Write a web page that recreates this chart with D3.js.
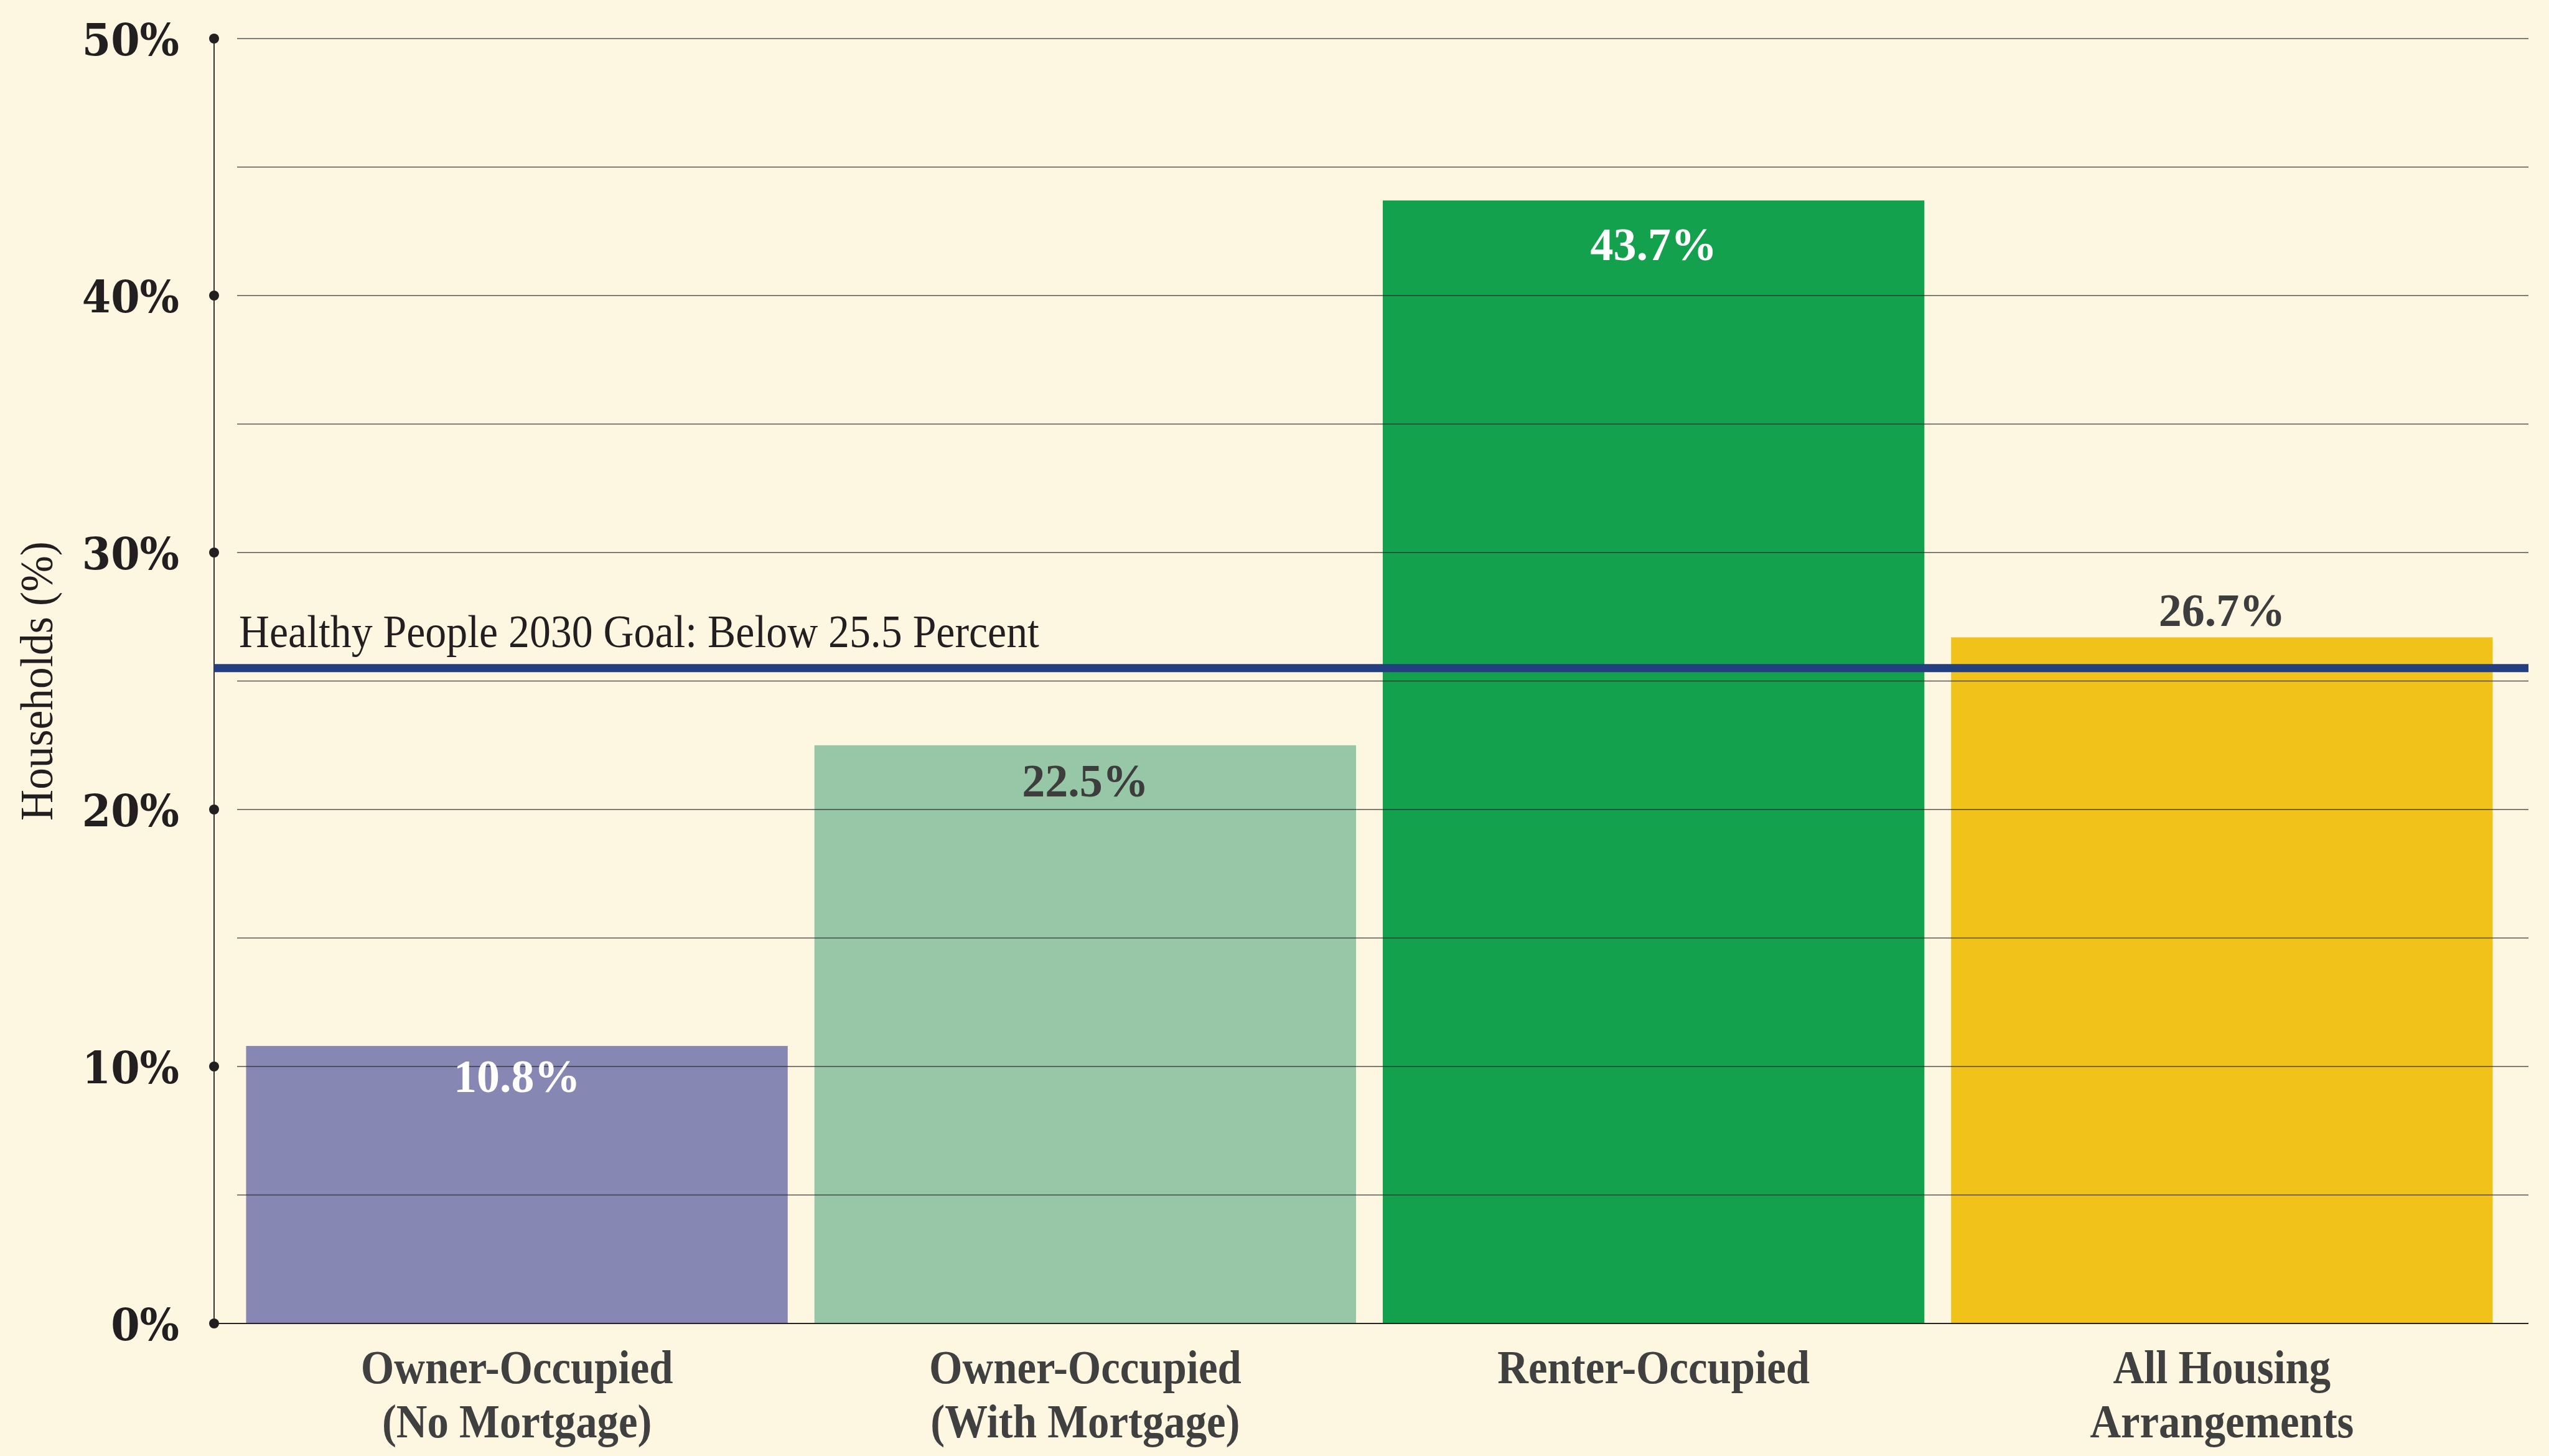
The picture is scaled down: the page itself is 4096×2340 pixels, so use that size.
<!DOCTYPE html>
<html><head><meta charset="utf-8">
<script src="https://cdn.jsdelivr.net/npm/d3@7"></script>
<style>html,body{margin:0;padding:0;background:#FDF7E2;} svg{display:block}</style>
</head><body>
<svg id="c" width="4096" height="2340"></svg>
<script>
// ---- data ----
const categories = [
  ["Owner-Occupied", "(No Mortgage)"],
  ["Owner-Occupied", "(With Mortgage)"],
  ["Renter-Occupied"],
  ["All Housing", "Arrangements"]
];
const values = [10.8, 22.5, 43.7, 26.7];
const valueLabels = ["10.8%", "22.5%", "43.7%", "26.7%"];
const labelInside = [true, true, true, false];
const yTicks = [0, 10, 20, 30, 40, 50];
const yTickLabels = ["0%", "10%", "20%", "30%", "40%", "50%"];
const gridValues = [5, 10, 15, 20, 25, 30, 35, 40, 45, 50];
const goalValue = 25.5;
const goalLabel = "Healthy People 2030 Goal: Below 25.5 Percent";
const yTitle = "Households (%)";

// ---- styles ----
const barColors = ["#8688B3", "#97C7A7", "#13A14D", "#F0C21A"];
const labelColors = ["#ffffff", "#3d3d3d", "#ffffff", "#3d3d3d"];
const W = 4096, H = 2340;
const svg = d3.select("#c");
svg.append("rect").attr("width", W).attr("height", H).attr("fill", "#FDF7E2");

const y = d3.scaleLinear().domain([0, 50]).range([2127, 62]);
const x = d3.scaleBand().domain(d3.range(categories.length))
  .range([374, 4027]).paddingInner(0.047).paddingOuter(0.0235);
const axisX = 344, gridX0 = 381, gridX1 = 4063;

// bars
svg.append("g").selectAll("rect").data(values).join("rect")
  .attr("x", (d, i) => x(i)).attr("width", x.bandwidth())
  .attr("y", d => y(d)).attr("height", d => y(0) - y(d))
  .attr("fill", (d, i) => barColors[i]);

// gridlines (drawn over bars)
svg.append("g").selectAll("line").data(gridValues).join("line")
  .attr("x1", gridX0).attr("x2", gridX1)
  .attr("y1", d => y(d)).attr("y2", d => y(d))
  .attr("stroke", "#2a2a2a").attr("stroke-width", 1.3).attr("stroke-opacity", 0.8);

// baseline
svg.append("line").attr("x1", axisX).attr("x2", gridX1)
  .attr("y1", y(0)).attr("y2", y(0))
  .attr("stroke", "#262626").attr("stroke-width", 2.2);

// y axis line
svg.append("line").attr("x1", axisX).attr("x2", axisX)
  .attr("y1", y(50)).attr("y2", y(0))
  .attr("stroke", "#333").attr("stroke-width", 2);

// tick dots
svg.append("g").selectAll("circle").data(yTicks).join("circle")
  .attr("cx", axisX).attr("cy", d => y(d)).attr("r", 8).attr("fill", "#231f20");

// tick labels via axis generator
const axisG = svg.append("g").attr("transform", "translate(288,0)")
  .call(d3.axisLeft(y).tickValues(yTicks).tickFormat((d, i) => yTickLabels[i]).tickSize(0).tickPadding(0));
axisG.select(".domain").remove();
axisG.selectAll("text")
  .attr("x", 0).attr("dy", null)
  .attr("transform", "translate(0,26) scale(0.94,1)")
  .attr("text-anchor", "end")
  .attr("fill", "#231f20")
  .style("font-family", "'DejaVu Serif', serif")
  .style("font-weight", "bold")
  .style("font-size", "71px");

// goal line
svg.append("line").attr("x1", axisX).attr("x2", gridX1)
  .attr("y1", y(goalValue)).attr("y2", y(goalValue))
  .attr("stroke", "#233F80").attr("stroke-width", 13);

svg.append("text")
  .attr("transform", `translate(384,${y(goalValue) - 34}) scale(0.904,1)`)
  .attr("fill", "#231f20")
  .style("font-family", "'Liberation Serif', serif")
  .style("font-size", "75px")
  .text(goalLabel);

// y title
svg.append("text")
  .attr("transform", `translate(84,${(y(0) + y(50)) / 2}) rotate(-90) scale(0.925,1)`)
  .attr("text-anchor", "middle")
  .attr("fill", "#231f20")
  .style("font-family", "'Liberation Serif', serif")
  .style("font-size", "75px")
  .text(yTitle);

// value labels
svg.append("g").selectAll("text").data(values).join("text")
  .attr("transform", (d, i) => {
    const top = y(d), h = y(0) - y(d);
    const by = labelInside[i] ? top + 66.8 + 0.0162 * h : top - 18;
    return `translate(${x(i) + x.bandwidth() / 2},${by})`;
  })
  .attr("text-anchor", "middle")
  .attr("fill", (d, i) => labelColors[i])
  .style("font-family", "'Liberation Serif', serif")
  .style("font-weight", "bold")
  .style("font-size", "74px")
  .text((d, i) => valueLabels[i]);

// category labels
const catG = svg.append("g").selectAll("g").data(categories).join("g")
  .attr("transform", (d, i) => `translate(${x(i) + x.bandwidth() / 2},0)`);
catG.selectAll("text").data(d => d).join("text")
  .attr("transform", (d, j) => `translate(0,${2223 + j * 87}) scale(0.905,1)`)
  .attr("text-anchor", "middle")
  .attr("fill", "#404040")
  .style("font-family", "'Liberation Serif', serif")
  .style("font-weight", "bold")
  .style("font-size", "76px")
  .text(d => d);
</script>
</body></html>
